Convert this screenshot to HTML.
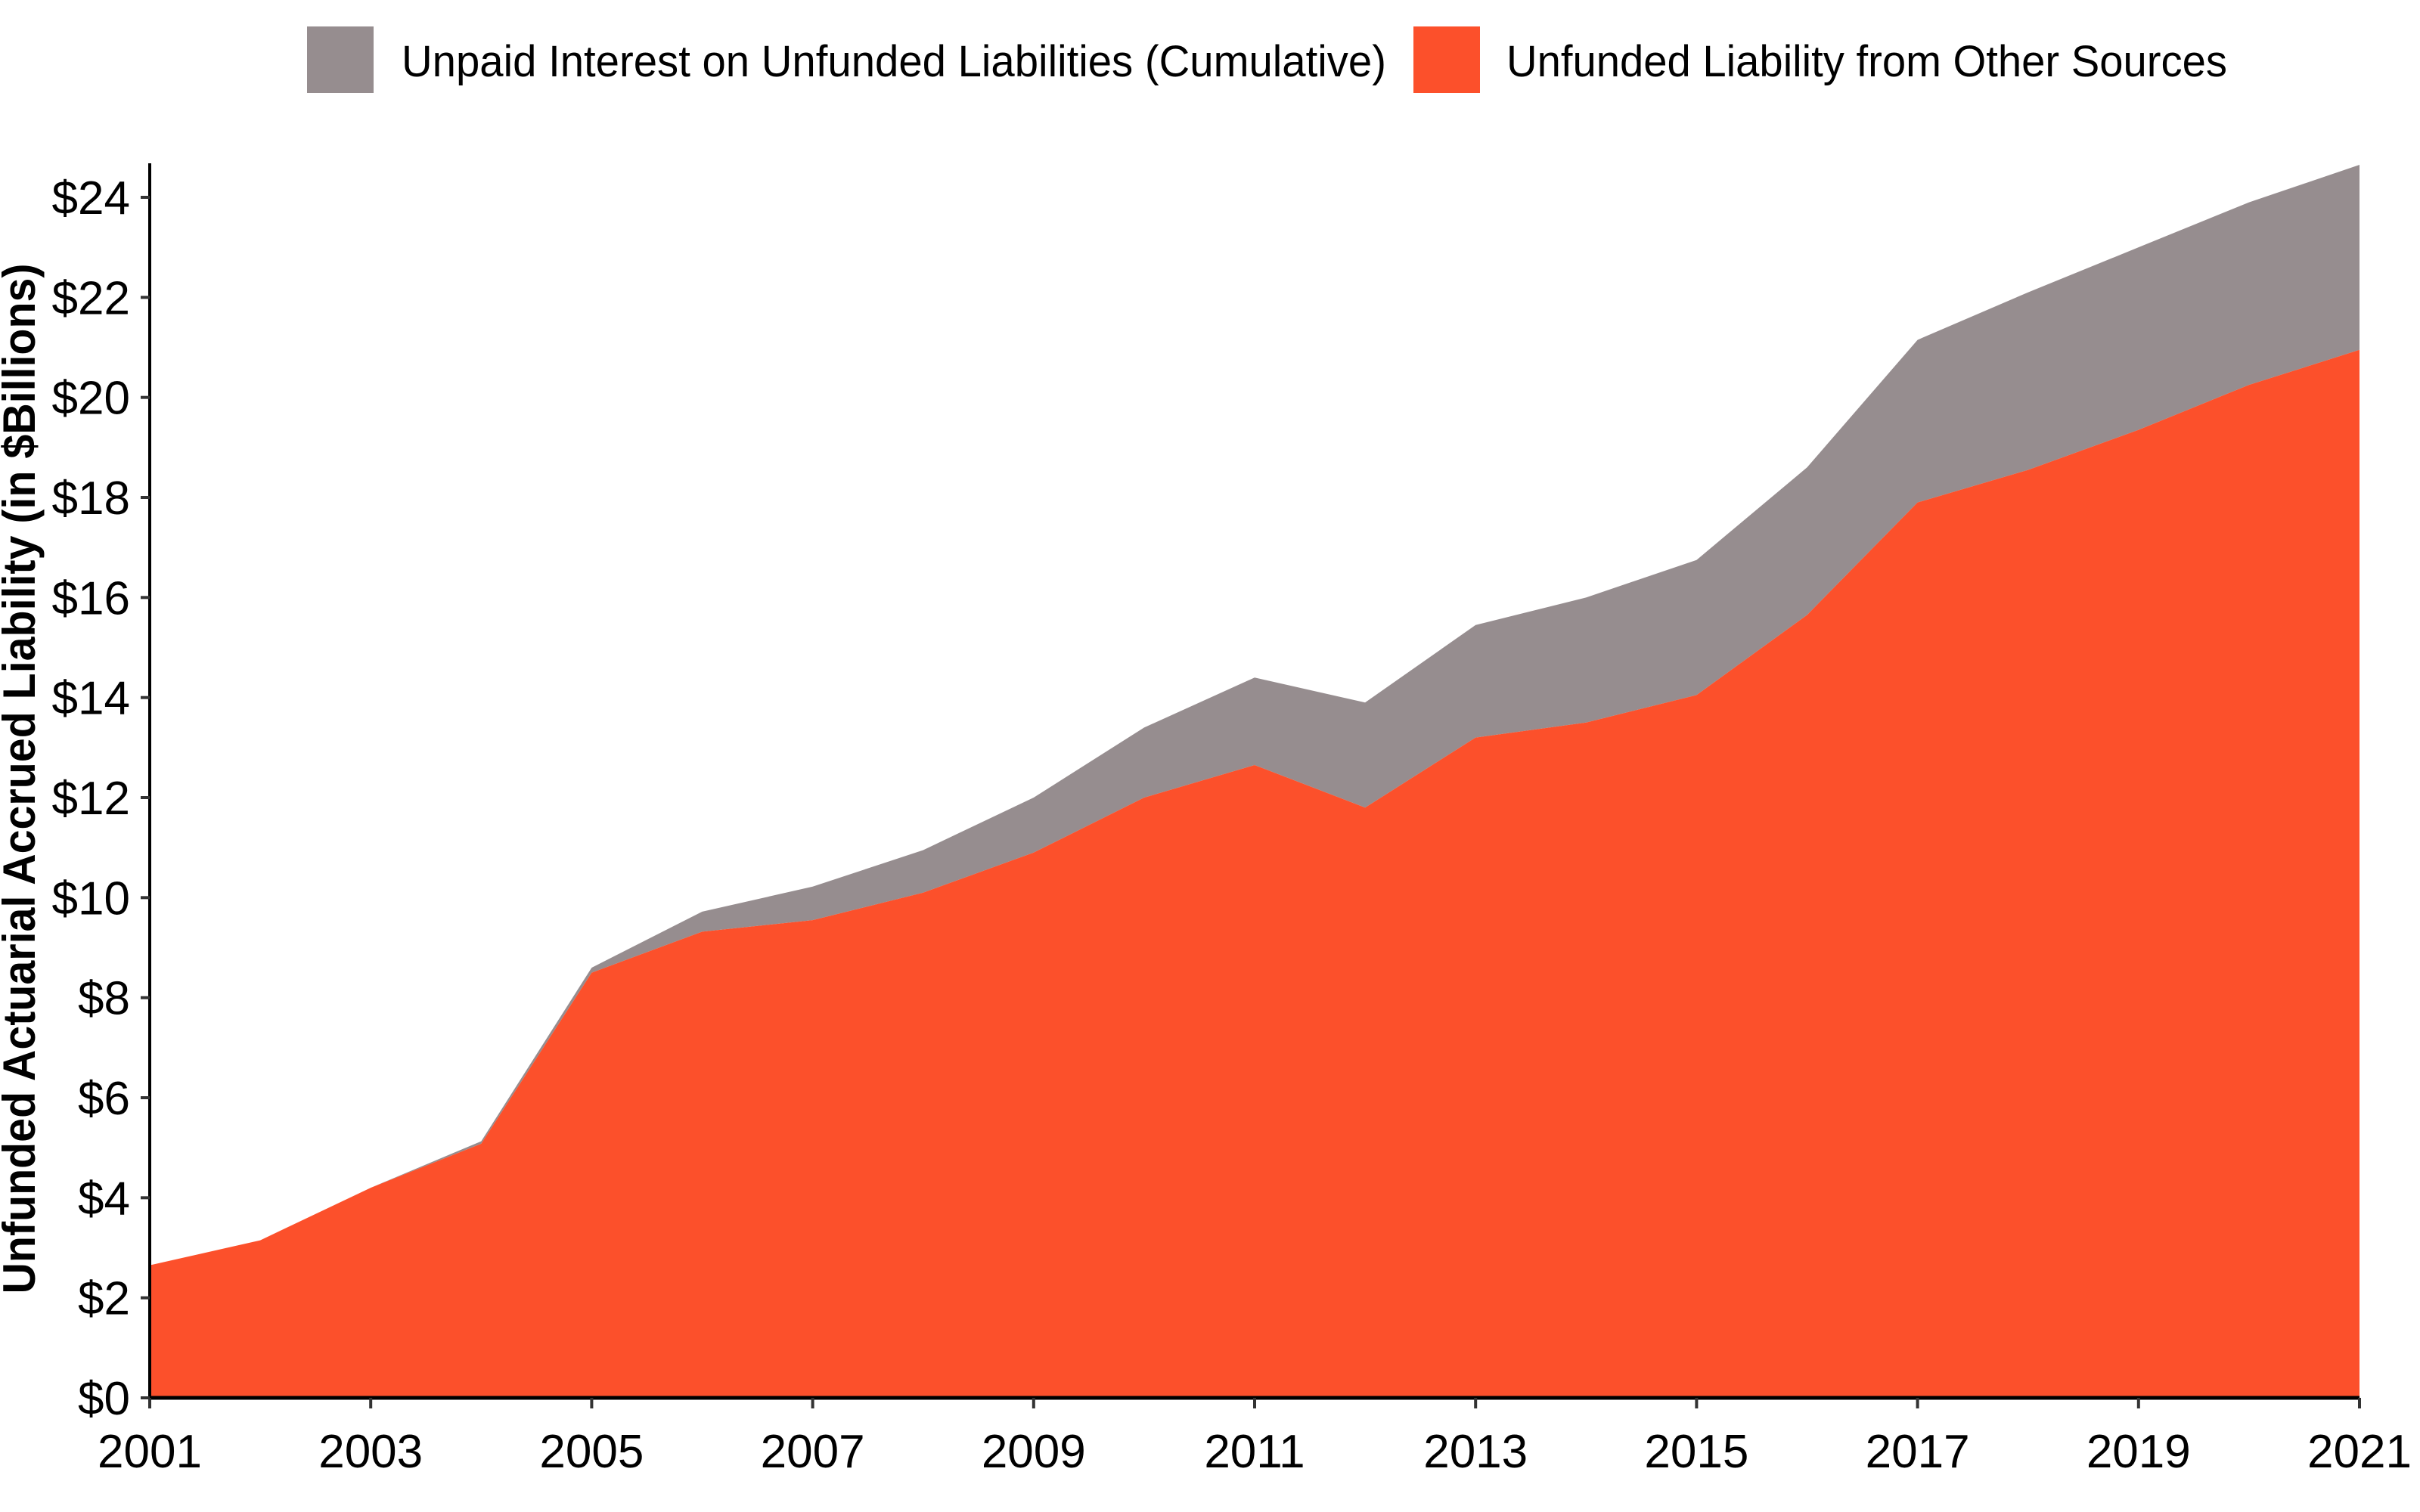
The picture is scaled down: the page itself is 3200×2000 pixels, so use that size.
<!DOCTYPE html>
<html><head><meta charset="utf-8"><style>
html,body{margin:0;padding:0;background:#fff;}
svg{display:block;font-family:"Liberation Sans Narrow","Liberation Sans",sans-serif;}
</style></head><body>
<svg id="chart" width="3200" height="2000" viewBox="0 0 3200 2000" xmlns="http://www.w3.org/2000/svg">
  <g>
    <rect x="406" y="35" width="88" height="88" fill="#968d8f"/>
    <text x="531" y="101" font-size="58" textLength="1302" lengthAdjust="spacingAndGlyphs" fill="#000">Unpaid Interest on Unfunded Liabilities (Cumulative)</text>
    <rect x="1869" y="35" width="88" height="88" fill="#fc502b"/>
    <text x="1992" y="101" font-size="58" textLength="953" lengthAdjust="spacingAndGlyphs" fill="#000">Unfunded Liability from Other Sources</text>
  </g>
  <text transform="translate(46,1030) rotate(-90)" text-anchor="middle" font-size="60" font-weight="bold" textLength="1363" lengthAdjust="spacingAndGlyphs" fill="#000">Unfunded Actuarial Accrued Liability (in $Billions)</text>
  <g id="areas"></g>
  <g id="axes"></g>
</svg>
<script>
const years = [2001,2002,2003,2004,2005,2006,2007,2008,2009,2010,2011,2012,2013,2014,2015,2016,2017,2018,2019,2020,2021];
const otherSources = [2.65,3.15,4.2,5.08,8.5,9.32,9.55,10.1,10.9,12.0,12.65,11.8,13.2,13.5,14.05,15.65,17.9,18.55,19.35,20.25,20.95];
const unpaidInterest = [0,0,0,0.05,0.1,0.4,0.67,0.85,1.1,1.4,1.75,2.1,2.25,2.5,2.7,2.95,3.25,3.55,3.65,3.65,3.7];
const yTicks = [0,2,4,6,8,10,12,14,16,18,20,22,24];
const xTickYears = [2001,2003,2005,2007,2009,2011,2013,2015,2017,2019,2021];

const NS = "http://www.w3.org/2000/svg";
const X0 = 198, X1 = 3120, Y0 = 1849, Y24 = 261, YTOP = 216;
function xs(yr){ return X0 + (yr - years[0]) / (years[years.length-1] - years[0]) * (X1 - X0); }
function ys(v){ return Y0 - v * (Y0 - Y24) / 24; }
function mk(tag, attrs){ const e = document.createElementNS(NS, tag); for (const k in attrs) e.setAttribute(k, attrs[k]); return e; }

const areas = document.getElementById('areas');
const totals = otherSources.map((v,i)=>v+unpaidInterest[i]);
// interest area (between other and total)
let d = years.map((y,i)=>(i?'L':'M')+xs(y)+','+ys(totals[i])).join(' ');
for (let i=years.length-1;i>=0;i--) d += ' L'+xs(years[i])+','+ys(otherSources[i]);
const pI = mk('path',{d:d+' Z',fill:'#968d8f'});


areas.appendChild(pI);
let d2 = 'M'+xs(years[0])+','+ys(0)+' '+years.map((y,i)=>'L'+xs(y)+','+ys(otherSources[i])).join(' ')+' L'+xs(years[years.length-1])+','+ys(0)+' Z';
const pO = mk('path',{d:d2,fill:'#fc502b'});


areas.appendChild(pO);

const axes = document.getElementById('axes');
const yl = mk('line',{x1:X0,y1:YTOP,x2:X0,y2:Y0+2,stroke:'#000','stroke-width':4});


axes.appendChild(yl);
const xl = mk('line',{x1:X0-2,y1:Y0,x2:X1,y2:Y0,stroke:'#000','stroke-width':5});


axes.appendChild(xl);
yTicks.forEach(v=>{
  const t = mk('line',{x1:X0-12,y1:ys(v),x2:X0,y2:ys(v),stroke:'#333','stroke-width':4});
  
  
  axes.appendChild(t);
  const l = mk('text',{x:172,y:ys(v)+22,'text-anchor':'end','font-size':62,fill:'#000'});
  
  
  l.textContent = '$'+v;
  axes.appendChild(l);
});
xTickYears.forEach(yr=>{
  const t = mk('line',{x1:xs(yr),y1:Y0,x2:xs(yr),y2:Y0+14,stroke:'#333','stroke-width':4});
  
  
  axes.appendChild(t);
  const l = mk('text',{x:xs(yr),y:1941,'text-anchor':'middle','font-size':62,fill:'#000'});
  
  
  l.textContent = yr;
  axes.appendChild(l);
});
</script>
</body></html>
